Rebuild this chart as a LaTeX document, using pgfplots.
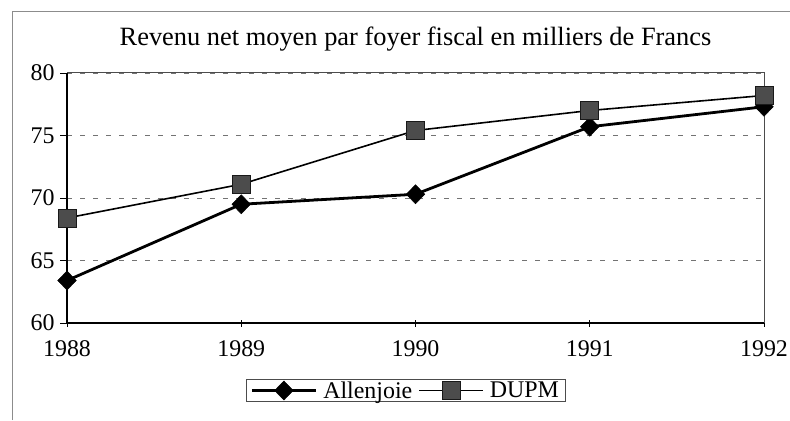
\documentclass[border=0pt]{standalone}
\usepackage{pgfplots}
\pgfplotsset{compat=1.18}
\usepackage{fontspec}
\setmainfont{Liberation Serif}
\begin{document}
\begin{tikzpicture}[x=1bp,y=1bp]
\useasboundingbox (0,0) rectangle (790,420);
\draw[black!45, line width=1bp] (12,0) -- (12,408) -- (790,408);
\begin{axis}[
  at={(67bp,97bp)}, anchor=south west,
  scale only axis, width=697bp, height=250bp,
  xmin=1988, xmax=1992, ymin=60, ymax=80,
  xtick={1988,1989,1990,1991,1992},
  ytick={60,65,70,75,80},
  xticklabels={1988,1989,1990,1991,1992},
  /pgf/number format/assume math mode=true,
  tick label style={font=\fontsize{24}{28}\selectfont, black},
  xticklabel style={yshift=-7bp},
  yticklabel style={xshift=-2bp},
  major tick length=7bp,
  xtick style={black, line width=0.8bp, yshift=3.5bp},
  ytick style={black, line width=0.8bp},
  tick align=outside,
  axis x line*=bottom, axis y line*=left,
  axis line style={black, line width=1.3bp},
  ymajorgrids,
  grid style={black!55, line width=0.8bp, dash pattern=on 5bp off 8bp},
  clip=false,
  title={Revenu net moyen par foyer fiscal en milliers de Francs},
  title style={font=\fontsize{26.5}{30}\selectfont, at={(0.5,1)}, anchor=south, yshift=12bp},
  legend style={at={(0.486,-0.27)}, anchor=center, legend columns=2,
    font=\fontsize{24}{28}\selectfont, draw=black!70, line width=0.6bp,
    inner xsep=4bp, inner ysep=0bp, column sep=4bp},
  legend cell align=left,
  legend image code/.code={\draw[mark repeat=2,mark phase=2,#1] plot coordinates {(0bp,0bp) (32bp,0bp) (64bp,0bp)};},
]
\draw[black!70, line width=1bp] (axis cs:1988,80) -- (axis cs:1992,80) -- (axis cs:1992,60);
\addplot[black, line width=2.8bp, mark=diamond*, mark size=9.5bp, mark options={fill=black, line width=0.5bp, xscale=1.3}]
 coordinates {(1988,63.4) (1989,69.5) (1990,70.3) (1991,75.7) (1992,77.3)};
\addlegendentry{Allenjoie}
\addplot[black, line width=1.6bp, mark=square*, mark size=9bp, mark options={fill=black!70, draw=black!90, line width=1bp}]
 coordinates {(1988,68.4) (1989,71.1) (1990,75.4) (1991,77.0) (1992,78.2)};
\addlegendentry{DUPM}
\end{axis}
\end{tikzpicture}
\end{document}
